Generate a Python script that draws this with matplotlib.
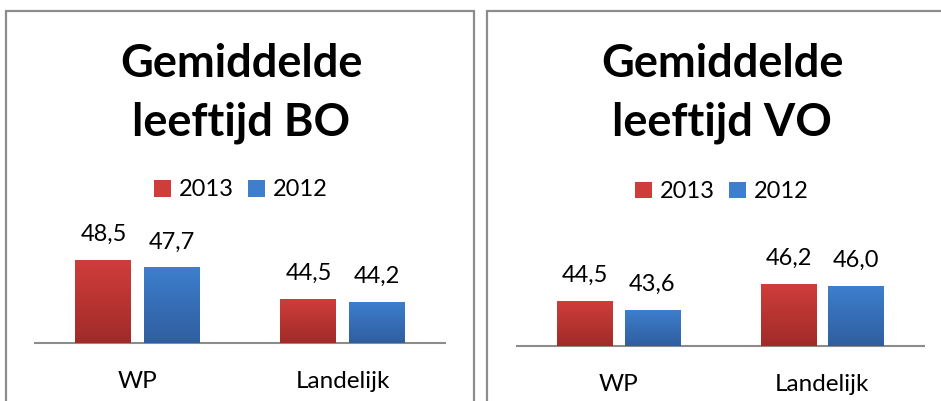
import matplotlib.pyplot as plt
import numpy as np
from matplotlib.colors import LinearSegmentedColormap
from matplotlib.patches import Rectangle, Patch

plt.rcParams['font.family'] = ['Lato', 'DejaVu Sans']

# data
categories = ['WP', 'Landelijk']
series = ['2013', '2012']
bo_2013 = [48.5, 44.5]
bo_2012 = [47.7, 44.2]
vo_2013 = [44.5, 46.2]
vo_2012 = [43.6, 46.0]
titles = [('Gemiddelde', 'leeftijd BO'), ('Gemiddelde', 'leeftijd VO')]

red_top, red_bot = '#cf3d3a', '#a02b29'
blue_top, blue_bot = '#3d7ecd', '#2f5e9f'

W, H = 941, 401
fig = plt.figure(figsize=(W / 100, H / 100), dpi=100)

# panel borders (pixel coords -> figure fraction)
def px(x, y):
    return x / W, 1 - y / H

for x0, y0, x1, y1 in [(6, 11, 474, 405), (487, 11, 945, 405)]:
    fig.patches.append(Rectangle(px(x0, y1), (x1 - x0) / W, (y1 - y0) / H,
                                 transform=fig.transFigure, fill=False,
                                 edgecolor='#8c8c8c', lw=1.6))


def gradient_bars(ax, bars, top, bot):
    cmap = LinearSegmentedColormap.from_list('g', [bot, top])
    grad = np.linspace(0, 1, 100).reshape(-1, 1)
    ymin = ax.get_ylim()[0]
    for b in bars:
        x = b.get_x()
        ax.imshow(grad, cmap=cmap, origin='lower', aspect='auto',
                  extent=(x, x + b.get_width(), ymin, b.get_height()), zorder=3)


def panel(rect, v13, v12, title, cx, legend_y):
    ax = fig.add_axes(rect)
    x = np.arange(len(categories))
    w = 0.273
    b1 = ax.bar(x - 0.166, v13, w, color=red_top, zorder=2)
    b2 = ax.bar(x + 0.166, v12, w, color=blue_top, zorder=2)
    ax.set_xlim(-0.5, 1.5)
    ax.set_ylim(40, 50)
    gradient_bars(ax, b1, red_top, red_bot)
    gradient_bars(ax, b2, blue_top, blue_bot)
    for bars, vals in [(b1, v13), (b2, v12)]:
        for b, v in zip(bars, vals):
            ax.annotate(f'{v:.1f}'.replace('.', ','),
                        (b.get_x() + b.get_width() / 2, v),
                        xytext=(0, 11), textcoords='offset points',
                        ha='center', va='bottom', fontsize=17)
    for s in ['top', 'right', 'left']:
        ax.spines[s].set_visible(False)
    ax.spines['bottom'].set_color('#8c8c8c')
    ax.spines['bottom'].set_linewidth(1.5)
    ax.set_yticks([])
    ax.set_xticks(x)
    ax.set_xticklabels(categories, fontsize=17.5)
    ax.tick_params(axis='x', length=0, pad=20)
    ax.patch.set_alpha(0)

    fig.text(cx / W, 1 - 77 / H, title[0], ha='center', va='baseline',
             fontsize=32.5, fontweight='bold')
    fig.text(cx / W, 1 - 135 / H, title[1], ha='center', va='baseline',
             fontsize=32.5, fontweight='bold')

    handles = [Patch(facecolor=red_top), Patch(facecolor=blue_top)]
    fig.legend(handles, series, loc='center', ncol=2, frameon=False,
               bbox_to_anchor=(cx / W, 1 - legend_y / H), fontsize=17,
               handlelength=0.7, handleheight=0.7, handletextpad=0.35,
               columnspacing=0.6)
    return ax


panel([35 / W, 58 / H, 410 / W, 97.5 / H], bo_2013, bo_2012, titles[0], 241, 190)
panel([517 / W, 55 / H, 407 / W, 100 / H], vo_2013, vo_2012, titles[1], 722, 192)

fig.savefig('out.png', dpi=100)
